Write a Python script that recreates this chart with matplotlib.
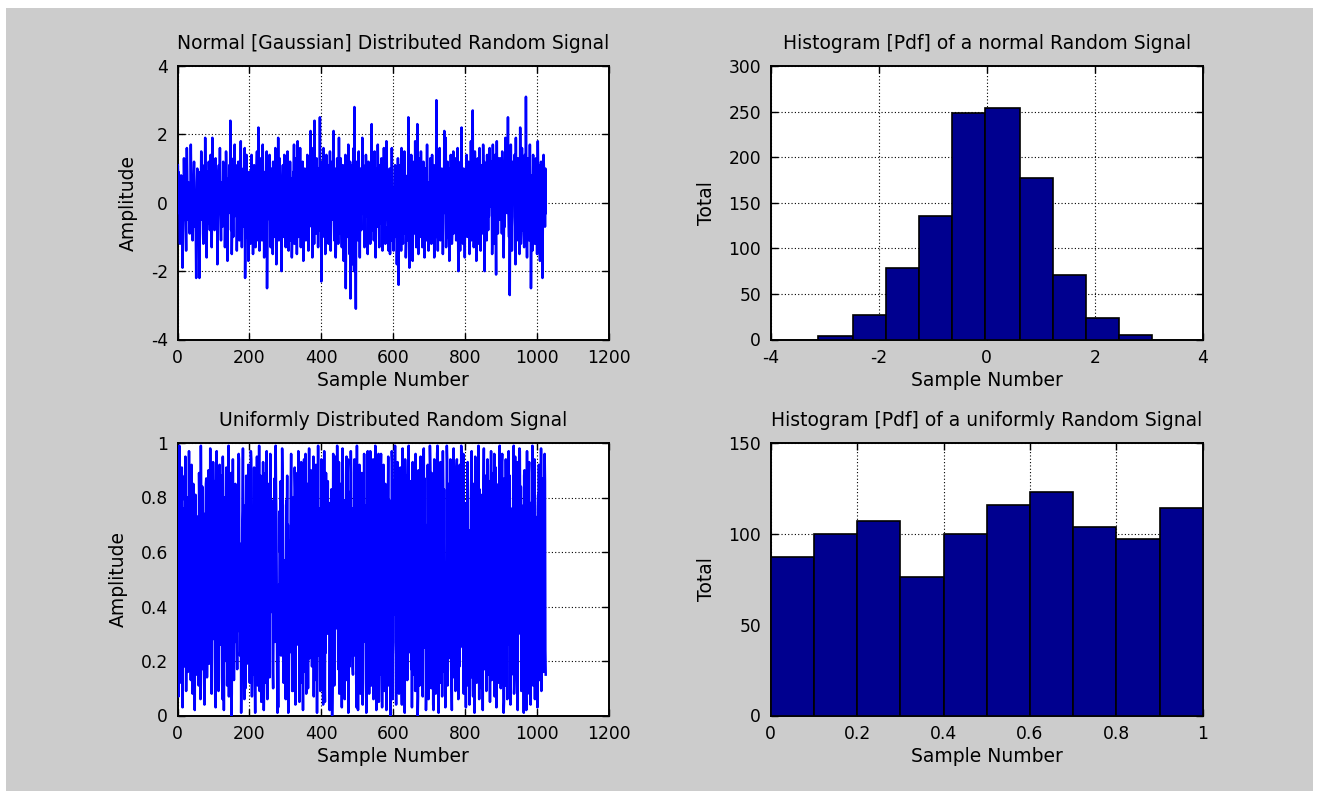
import numpy as np
import matplotlib
matplotlib.use("Agg")
import matplotlib.pyplot as plt
from matplotlib.patches import Rectangle

# ---------------- data ----------------
# Normal (Gaussian) random signal, values in tenths (read/estimated from picture)
normal_tenths = [
    11, 6, 9, -3, 2, -7, -12, -4,  5, 8, -1, 3, -6, -19, -10, -2,  4, 13, 7, -5, 1, 0, -8, -14,  3, 16, 9, -2, -5, 6, 2, -1,
    -3, -9, 4, 1, 17, 7, -2, 5,  -4, -11, -6, 0, 8, 12, 3, -7,  -1, 2, -9, -22, -5, 6, 10, 4,  -8, 1, -3, -13, -22, -6, 9, 5,
    2, 15, 8, -1, -5, 3, -9, -12,  -4, 7, 11, 0, 19, 6, -3, -7,  -16, -2, 4, 9, 1, -6, 12, 5,  -1, -8, 3, 14, 6, -2, -13, -4,
    19, 7, 0, -5, 10, 3, -8, -2,  -1, 13, 6, -4, 2, 5, -18, -10,  -3, 8, 11, -1, 4, 16, 0, -6,  -11, -2, 6, 1, -7, -3, 12, 9,
    -6, 1, 8, -13, -4, 3, 15, 10,  2, -9, -17, -5, 7, 0, -2, 11,  4, -3, 24, 6, -8, -1, -15, -7,  5, 9, -10, 13, 2, -4, 17, 3,
    -2, 11, 4, -1, -14, -6, 2, -8,  12, 7, -3, -11, 0, 8, 5, 18,  1, 9, -13, -4, 6, 3, 10, -7,  -3, 2, 16, -22, -9, -5, 7, 14,
    -10, -2, 5, 3, -17, -6, 9, 1,  4, 8, -12, -4, -7, 14, 2, 5,  -1, -15, -6, 4, 11, 7, -9, -3,  -13, 0, 5, 10, 15, -6, -2, -11,
    22, 3, -1, -14, -8, 5, 6, 13,  0, -3, -11, 4, 17, 7, -2, 1,  -16, -4, 9, 6, -8, -12, 2, 15,  -25, -7, 3, 11, -1, 4, 8, 14,
    -5, 2, -13, -3, 10, 6, -8, -1,  -15, 12, 3, 6, 1, 7, -10, 16,  5, -3, -18, -9, 4, -2, -7, 19,  0, -11, -4, 13, 2, -9, -6, 1,
    -20, -6, 3, 7, 11, -2, -10, -1,  14, 5, 3, 9, -13, 0, 4, -8,  -9, 15, 2, 6, -14, -1, -8, -5,  12, 3, -11, 0, 7, -16, -10, -4,
    2, 9, 5, 17, -12, -1, 4, 8,  -7, 13, 6, -15, 0, 18, 3, -1,  -10, -7, 3, 6, 16, 5, -13, 9,  2, -8, 1, 12, 4, -17, -6, 0,
    -6, 10, 4, 2, -11, -7, 0, -9,  14, 3, 4, -14, 8, 2, -7, 12,  1, 21, 10, 5, -1, 9, -16, -3,  16, 6, 0, -12, 24, 2, 11, 3,
    4, -9, 13, 6, 5, 1, -13, -2,  10, 3, -8, 25, 0, -6, 7, -23,  -4, 5, 12, -10, -2, 16, 7, -1,  -2, 9, -15, 4, 0, 14, 6, -11,
    7, 3, 11, -12, -1, 5, -8, 15,  2, -14, -6, 3, -5, 12, 9, -1,  8, 21, 4, -11, -2, 10, 0, -16,  -9, 1, -7, 13, 5, -3, -12, 2,
    19, 4, 6, -9, 0, 13, 3, -6,  -13, 8, 1, 11, -2, -17, -5, 9,  -7, 2, 14, -25, -3, 4, 10, -10,  6, -5, 17, 0, 3, -15, -8, 12,
    -28, -5, -12, 9, -3, -18, 11, 2,  -9, 16, -20, 28, -6, 3, -14, -31,  4, -7, 12, 0, 8, -11, -1, 15,  -5, 7, -16, 2, 10, -4, -8, 6,
    -3, 19, 9, 4, 11, 1, -6, -13,  8, 2, -4, 14, 10, 5, 0, 9,  -15, -2, 12, 6, 3, -7, 10, -12,  -1, 7, 5, 23, -8, 13, -3, 0,
    6, -11, 3, 15, 4, -4, -16, -1,  10, 0, -7, 8, 17, 9, -2, 5,  -13, 11, 2, 7, -6, -1, 13, 10,  4, -14, 9, 3, -5, 16, 0, -8,
    -7, -12, 1, 4, 18, 12, -5, 8,  -1, -9, -14, 3, 6, 10, -15, -2,  7, 3, -11, 16, 0, -6, -8, 4,  -14, -9, 1, 5, 11, -2, 7, -10,
    3, -18, -9, -6, 13, 1, -24, 7,  3, 11, 0, 5, -10, -14, 16, 2,  8, -5, -12, 10, 7, 4, 15, -1,  -9, 6, -16, -12, 0, 3, -11, 8,
    -6, 25, 3, 7, -19, -4, 10, 8,  1, 14, -12, -6, -2, -17, 9, 0,  -5, 12, 3, -9, 18, -4, -5, -13,  8, -1, 23, 7, 2, -15, 6, 13,
    -4, 9, -10, -2, 15, 6, 4, -1,  -13, 8, 0, 12, -8, -3, -16, 7,  10, 3, 5, -11, 1, 17, -7, 4,  2, -14, -11, 6, -9, 0, 13, 5,
    8, -12, -2, 14, 5, 6, -9, 1,  11, -16, -4, -2, 9, 7, 0, 30,  -10, 3, 7, -14, 12, 1, 5, -8,  16, -4, -11, 6, 2, -6, 10, 3,
    1, -15, -6, 9, -3, 21, 8, 4,  -1, 19, -13, -7, 0, 6, 12, -10,  -3, 8, -4, -17, 10, 2, -7, 14,  2, 5, -12, -9, -5, 1, 15, -9,
    6, -3, 11, 8, 2, 13, -11, 0,  7, -5, 16, -2, -20, -4, 9, 6,  1, -14, 12, 3, -9, 22, 4, 8,  -1, -12, 5, 10, -7, 2, -16, 7,
    -2, 9, -6, 14, 0, -10, -5, -3,  12, 8, 3, -15, 7, 1, -5, 18,  -11, 4, -1, 10, 27, -7, 2, -13,  -8, -4, 15, 9, 0, 6, -17, 11,
    3, -7, 13, 2, 8, -12, 1, 16,  -5, 9, -14, -4, 0, 11, -9, 6,  -3, 17, 8, 2, 12, -20, -7, -1,  10, 6, 4, -11, 14, -3, 5, -8,
    9, -4, 2, 16, 10, 6, -1, 12,  7, 3, -15, -8, 17, 5, 0, 10,  -12, -4, 14, 3, -7, -21, 1, 18,  6, 11, -9, 5, -2, 13, 8, 0,
    -5, 10, 13, 3, 7, -9, 15, 1,  4, 12, -16, -6, 0, -7, 9, 19,  11, 2, 8, -3, 13, 6, 25, -1,  -4, -10, 11, -27, -5, -2, 17, 8,
    2, -14, -7, -4, 12, 0, 9, 5,  14, 6, 3, -18, 19, 1, 8, -11,  -4, -5, 13, 8, 1, 10, -15, -6,  22, 3, -12, -9, -1, 16, 7, 3,
    -8, 11, 0, -13, -6, 14, 4, 2,  31, 9, -5, -16, 9, 2, 13, -7,  -1, -11, 7, 17, 5, 3, -25, -10,  -3, 8, -14, -4, 14, 6, 1, -10,
    5, -12, -9, -3, 13, 7, 2, -15,  7, 18, 9, 0, 11, -6, -4, -17,  8, 2, 12, -8, 3, -5, -22, -6,  -1, 14, 10, 4, 9, -7, 10, -3,
]

# Uniform random signal, values in hundredths (read/estimated from picture)
uniform_hundredths = [
    86, 71, 7, 45, 99, 93, 23, 28,  68, 12, 15, 91, 37, 3, 56, 76,  54, 61, 18, 88, 79, 95, 41, 9,  32, 72, 80, 50, 16, 64, 57, 97,
    58, 26, 44, 79, 13, 70, 92, 81,  38, 8, 56, 85, 77, 20, 47, 2,  66, 81, 39, 44, 15, 19, 73, 52,  27, 60, 11, 89, 75, 77, 48, 6,
    99, 72, 63, 40, 84, 17, 57, 30,  21, 10, 4, 74, 43, 67, 85, 87,  53, 14, 30, 36, 62, 90, 46, 19,  71, 34, 98, 59, 64, 82, 8, 49,
    75, 28, 93, 82, 65, 42, 86, 21,  5, 3, 78, 58, 97, 16, 39, 45,  84, 9, 61, 30, 92, 51, 56, 73,  26, 88, 40, 14, 6, 95, 83, 57,
    2, 80, 47, 20, 70, 67, 37, 91,  58, 11, 23, 29, 64, 99, 7, 44,  76, 18, 52, 35, 89, 0, 8, 68,  23, 94, 41, 62, 13, 79, 50, 27,
    85, 65, 72, 39, 26, 17, 60, 31,  81, 96, 94, 40, 54, 22, 25, 63,  1, 17, 32, 69, 75, 98, 43, 58,  77, 6, 25, 33, 10, 67, 88, 82,
    19, 71, 48, 53, 92, 59, 28, 86,  12, 65, 36, 97, 94, 50, 7, 20,  42, 15, 74, 57, 91, 28, 22, 1,  84, 89, 70, 21, 95, 45, 11, 78,
    53, 33, 99, 9, 66, 76, 88, 49,  5, 73, 30, 60, 18, 93, 47, 2,  13, 35, 68, 12, 89, 54, 24, 97,  40, 6, 76, 58, 64, 85, 31, 14,
    64, 96, 90, 51, 38, 79, 43, 71,  16, 10, 37, 61, 54, 87, 27, 55,  99, 83, 72, 44, 19, 1, 26, 3,  44, 48, 29, 75, 60, 63, 86, 22,
    52, 38, 98, 87, 69, 34, 12, 17,  57, 25, 32, 41, 6, 77, 79, 65,  88, 32, 70, 1, 10, 35, 23, 64,  45, 51, 84, 96, 73, 28, 9, 56,
    9, 80, 42, 67, 19, 91, 83, 4,  76, 30, 62, 74, 89, 47, 26, 97,  38, 71, 5, 58, 43, 20, 44, 93,  12, 68, 34, 39, 2, 55, 87, 94,
    63, 41, 16, 96, 50, 8, 14, 31,  85, 46, 10, 69, 75, 98, 21, 52,  78, 73, 90, 43, 65, 18, 32, 29,  57, 95, 7, 48, 73, 13, 60, 37,
    92, 86, 84, 1, 66, 60, 99, 22,  54, 76, 33, 37, 9, 21, 45, 94,  77, 70, 28, 41, 4, 56, 36, 97,  15, 5, 51, 23, 89, 42, 46, 67,
    30, 86, 59, 52, 78, 47, 2, 11,  39, 64, 69, 83, 53, 0, 12, 38,  96, 85, 62, 11, 28, 44, 69, 95,  80, 32, 58, 99, 84, 49, 17, 27,
    93, 8, 15, 35, 85, 80, 55, 74,  3, 43, 98, 88, 67, 16, 30, 50,  6, 79, 71, 63, 24, 95, 13, 57,  86, 94, 1, 21, 46, 82, 18, 60,
    37, 97, 89, 52, 76, 30, 18, 15,  68, 40, 47, 94, 56, 22, 81, 84,  12, 3, 99, 31, 61, 2, 85, 88,  26, 92, 66, 10, 8, 38, 54, 19,
    89, 64, 4, 12, 45, 27, 96, 58,  54, 70, 36, 77, 1, 60, 29, 91,  97, 17, 84, 53, 8, 69, 40, 97,  93, 75, 11, 18, 51, 32, 65, 94,
    6, 43, 79, 81, 57, 99, 35, 13,  2, 49, 87, 80, 62, 42, 96, 5,  14, 33, 55, 15, 90, 96, 68, 83,  3, 47, 76, 30, 92, 59, 9, 71,
    38, 85, 18, 23, 2, 80, 44, 67,  75, 95, 52, 11, 79, 34, 65, 0,  19, 58, 21, 97, 93, 6, 73, 37,  86, 64, 61, 48, 99, 27, 22, 4,
    56, 70, 31, 93, 86, 64, 40, 8,  77, 50, 24, 91, 45, 66, 12, 4,  39, 98, 7, 60, 28, 25, 54, 1,  94, 85, 69, 19, 81, 46, 13, 88,
    62, 23, 99, 41, 72, 75, 57, 86,  33, 17, 78, 3, 64, 93, 30, 51,  16, 15, 42, 71, 9, 96, 36, 59,  22, 80, 47, 0, 7, 90, 26, 55,
    11, 74, 78, 95, 14, 63, 49, 83,  29, 7, 61, 97, 98, 40, 87, 25,  70, 53, 2, 12, 34, 65, 13, 92,  44, 6, 76, 57, 20, 99, 91, 68,
    45, 10, 89, 52, 27, 79, 4, 2,  37, 94, 15, 72, 48, 8, 84, 60,  32, 96, 99, 54, 77, 1, 88, 41,  66, 23, 93, 12, 58, 35, 81, 7,
    69, 97, 86, 47, 83, 16, 24, 39,  3, 10, 56, 29, 99, 93, 11, 67,  85, 21, 50, 55, 79, 36, 94, 62,  17, 13, 2, 89, 46, 28, 64, 98,
    14, 53, 80, 83, 9, 70, 42, 91,  94, 60, 38, 86, 6, 15, 57, 18,  92, 44, 69, 30, 99, 93, 51, 84,  25, 63, 96, 8, 71, 40, 16, 27,
    55, 3, 78, 48, 65, 62, 93, 11,  22, 34, 68, 4, 10, 52, 27, 80,  89, 97, 14, 61, 45, 7, 85, 31,  34, 1, 58, 95, 70, 66, 42, 12,
    89, 37, 72, 79, 99, 54, 6, 83,  47, 28, 22, 23, 63, 10, 81, 47,  2, 76, 85, 98, 56, 17, 20, 43,  88, 26, 9, 64, 50, 94, 92, 77,
    15, 59, 41, 86, 5, 67, 29, 97,  53, 13, 74, 80, 18, 89, 60, 34,  96, 7, 52, 83, 91, 68, 3, 41,  45, 78, 30, 12, 85, 57, 24, 99,
    39, 62, 10, 15, 48, 93, 96, 36,  80, 55, 1, 5, 87, 28, 49, 11,  94, 71, 77, 58, 6, 82, 42, 49,  97, 63, 26, 88, 54, 4, 76, 33,
    15, 20, 68, 45, 22, 61, 99, 8,  13, 39, 95, 14, 57, 79, 24, 91,  93, 2, 86, 66, 30, 50, 98, 97,  72, 35, 84, 9, 61, 46, 43, 20,
    77, 53, 1, 88, 90, 69, 27, 59,  12, 2, 44, 97, 25, 8, 70, 52,  89, 93, 15, 64, 78, 4, 31, 38,  56, 22, 99, 67, 11, 81, 77, 29,
    94, 6, 73, 58, 18, 15, 36, 63,  3, 76, 81, 21, 92, 41, 13, 84,  62, 30, 98, 9, 70, 76, 26, 87,  55, 16, 79, 35, 96, 86, 24, 15,
]

# Histogram of the normal signal: bin edges and counts
normal_bin_edges = [-3.12, -2.47, -1.87, -1.25, -0.64, -0.03, 0.62, 1.23, 1.83, 2.45, 3.07]
normal_counts = [4, 27, 78, 136, 248, 254, 177, 71, 24, 5]

# Histogram of the uniform signal: bin edges and counts
uniform_bin_edges = [0.0, 0.1, 0.2, 0.3, 0.4, 0.5, 0.6, 0.7, 0.8, 0.9, 1.0]
uniform_counts = [87, 100, 107, 76, 100, 116, 123, 104, 97, 114]

titles = ["Normal [Gaussian] Distributed Random Signal",
          "Histogram [Pdf] of a normal Random Signal",
          "Uniformly Distributed Random Signal",
          "Histogram [Pdf] of a uniformly Random Signal"]

# ---------------- styling ----------------
plt.rcParams['font.family'] = ['DejaVu Sans']
plt.rcParams['axes.unicode_minus'] = False
TICK_FS = 12.3
LABEL_FS = 13.5
GRAY = '#cccccc'
LINE_BLUE = '#0000ff'
BAR_NAVY = '#00008f'

W, H = 1318, 791
fig = plt.figure(figsize=(W / 100, H / 100), dpi=100)
fig.patch.set_facecolor('white')
fig.add_artist(Rectangle((6 / W, 0), (1313 - 6) / W, (H - 8) / H,
                         transform=fig.transFigure, facecolor=GRAY,
                         edgecolor='none', zorder=-10))


def px_axes(left, top, right, bottom):
    return fig.add_axes([left / W, 1 - bottom / H, (right - left) / W, (bottom - top) / H])


ax_n = px_axes(177.5, 66, 609, 339.5)
ax_nh = px_axes(770.7, 66, 1202.7, 339.5)
ax_u = px_axes(177.5, 443, 609, 715.5)
ax_uh = px_axes(770.7, 443, 1202.7, 715.5)


def style(ax, title, xlabel, ylabel):
    ax.set_facecolor('white')
    for s in ax.spines.values():
        s.set_linewidth(1.4)
        s.set_color('black')
    ax.tick_params(direction='in', top=True, right=True, length=5, width=1.0,
                   labelsize=TICK_FS, pad=7)
    ax.grid(True, color='black', linestyle=(0, (1, 2)), linewidth=0.8)
    ax.set_axisbelow(True)
    ax.set_title(title, fontsize=LABEL_FS, pad=12)
    ax.set_xlabel(xlabel, fontsize=LABEL_FS, labelpad=3)
    ax.set_ylabel(ylabel, fontsize=LABEL_FS, labelpad=9)


# Normal signal
normal_signal = np.array(normal_tenths) / 10.0
n_idx = np.arange(1, len(normal_signal) + 1)
ax_n.plot(n_idx, normal_signal, color=LINE_BLUE, linewidth=1.8, zorder=3)
ax_n.set_xlim(0, 1200)
ax_n.set_ylim(-4, 4)
ax_n.set_xticks([0, 200, 400, 600, 800, 1000, 1200])
ax_n.set_yticks([-4, -2, 0, 2, 4])
style(ax_n, titles[0], "Sample Number", "Amplitude")

# Normal histogram
ne = np.array(normal_bin_edges)
ax_nh.bar(ne[:-1], normal_counts, width=np.diff(ne), align='edge',
          color=BAR_NAVY, edgecolor='black', linewidth=1.2, zorder=3)
ax_nh.set_xlim(-4, 4)
ax_nh.set_ylim(0, 300)
ax_nh.set_xticks([-4, -2, 0, 2, 4])
ax_nh.set_yticks([0, 50, 100, 150, 200, 250, 300])
style(ax_nh, titles[1], "Sample Number", "Total")

# Uniform signal
uniform_signal = np.array(uniform_hundredths) / 100.0
u_idx = np.arange(1, len(uniform_signal) + 1)
ax_u.plot(u_idx, uniform_signal, color=LINE_BLUE, linewidth=1.8, zorder=3)
ax_u.set_xlim(0, 1200)
ax_u.set_ylim(0, 1)
ax_u.set_xticks([0, 200, 400, 600, 800, 1000, 1200])
ax_u.set_yticks([0, 0.2, 0.4, 0.6, 0.8, 1])
ax_u.set_yticklabels(['0', '0.2', '0.4', '0.6', '0.8', '1'])
style(ax_u, titles[2], "Sample Number", "Amplitude")

# Uniform histogram
ue = np.array(uniform_bin_edges)
ax_uh.bar(ue[:-1], uniform_counts, width=np.diff(ue), align='edge',
          color=BAR_NAVY, edgecolor='black', linewidth=1.2, zorder=3)
ax_uh.set_xlim(0, 1)
ax_uh.set_ylim(0, 150)
ax_uh.set_xticks([0, 0.2, 0.4, 0.6, 0.8, 1])
ax_uh.set_xticklabels(['0', '0.2', '0.4', '0.6', '0.8', '1'])
ax_uh.set_yticks([0, 50, 100, 150])
style(ax_uh, titles[3], "Sample Number", "Total")

fig.savefig('out.png', dpi=100, facecolor=fig.get_facecolor())
